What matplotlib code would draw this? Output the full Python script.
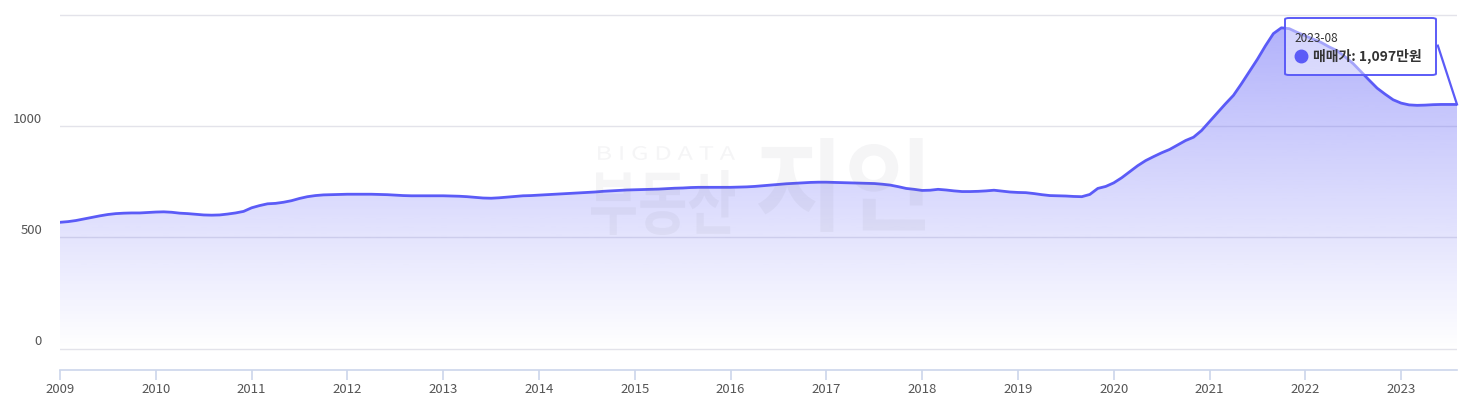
import numpy as np
import matplotlib
matplotlib.use('Agg')
import matplotlib.pyplot as plt
import matplotlib.transforms as mtransforms
from matplotlib.patches import FancyBboxPatch, PathPatch
from matplotlib.lines import Line2D
from matplotlib.path import Path
from matplotlib.textpath import TextPath
from matplotlib.font_manager import FontProperties

plt.rcParams['font.family'] = ['Noto Sans CJK KR', 'DejaVu Sans']

# ---------------- data ----------------
start_year = 2009
year_ticks = list(range(2009, 2024))
prices = [
    568, 571, 576, 583, 590, 597, 603, 607, 609, 610, 610, 612,      # 2009
    614, 615, 613, 609, 607, 604, 601, 600, 601, 605, 610, 617,      # 2010
    633, 643, 651, 653, 658, 665, 675, 683, 688, 691, 692, 693,      # 2011
    694, 694, 694, 694, 693, 692, 690, 688, 687, 687, 687, 687,      # 2012
    687, 686, 685, 683, 680, 677, 676, 678, 681, 684, 687, 688,      # 2013
    690, 692, 694, 696, 698, 700, 702, 704, 707, 709, 711, 713,      # 2014
    714, 715, 716, 717, 719, 721, 722, 724, 725, 725, 725, 725,      # 2015
    725, 726, 727, 729, 732, 735, 738, 741, 743, 745, 747, 748,      # 2016
    748, 747, 746, 745, 744, 743, 742, 739, 735, 728, 720, 716,      # 2017
    711, 712, 716, 713, 709, 706, 706, 707, 709, 712, 708, 704,      # 2018
    702, 701, 697, 692, 688, 687, 686, 684, 683, 693, 720, 729,      # 2019
    745, 768, 795, 822, 845, 863, 880, 895, 915, 935, 950, 980,      # 2020
    1020, 1060, 1100, 1138, 1190, 1245, 1300, 1360, 1415, 1441, 1437, 1420,  # 2021
    1405, 1390, 1375, 1355, 1338, 1310, 1280, 1243, 1206, 1170, 1143, 1118,  # 2022
    1103, 1095, 1093, 1094, 1096, 1097, 1097, 1097,                  # 2023 (Jan-Aug)
]
ytick_values = [0, 500, 1000, 1500]
ytick_labels = ['0', '500', '1000', '']
tooltip_date = '2023-08'
tooltip_label = '매매가'
tooltip_value = 1097
watermark_small = 'BIGDATA'
watermark_left = '부동산'
watermark_right = '지인'

# ---------------- figure ----------------
W, H = 1480, 415
DPI = 100
fig = plt.figure(figsize=(W / DPI, H / DPI), dpi=DPI)
ax = fig.add_axes([60 / W, 45 / H, (1457 - 60) / W, 356 / H])

LINE = '#5b5bf7'
t = start_year + np.arange(len(prices)) / 12.0
p = np.array(prices, dtype=float)

# gradient fill below the curve
n = 256
rgba = np.zeros((n, 1, 4))
rgba[..., 0] = 91 / 255
rgba[..., 1] = 91 / 255
rgba[..., 2] = 247 / 255
rgba[:, 0, 3] = np.linspace(0.0, 0.47, n)
im = ax.imshow(rgba, extent=[t[0], t[-1], 0, p.max()], origin='lower',
               aspect='auto', interpolation='bilinear', zorder=1)
verts = np.vstack([np.column_stack([t, p]),
                   [[t[-1], 0], [t[0], 0], [t[0], p[0]]]])
clip = PathPatch(Path(verts), transform=ax.transData,
                 facecolor='none', edgecolor='none')
ax.add_patch(clip)
im.set_clip_path(clip)
ax.set_xlim(t[0], t[-1])
ax.set_ylim(-95, 1503)

# line
ax.plot(t, p, color=LINE, lw=2.0, solid_joinstyle='round',
        solid_capstyle='round', zorder=3)

# hover artifact line towards the last point
ip = int(np.argmax(p))
ax.plot([t[-1] - 0.2, t[-1]], [p[ip] - 80, p[-1]], color=LINE, lw=1.6,
        zorder=3, clip_on=False)

# grid / axes
ax.set_yticks(ytick_values)
ax.set_yticklabels([])
ax.yaxis.grid(True, color='#e3e3ea', lw=1)
ax.set_axisbelow(True)
for s in ['top', 'right', 'left']:
    ax.spines[s].set_visible(False)
ax.spines['bottom'].set_color('#ccd6eb')
ax.spines['bottom'].set_linewidth(1.2)
ax.set_xticks(year_ticks)
ax.set_xticklabels([str(y) for y in year_ticks])
ax.tick_params(axis='y', length=0)
ax.tick_params(axis='x', length=7, width=1.2, color='#ccd6eb',
               labelcolor='#555555', labelsize=9.5, pad=2)

# y labels (drawn slightly above the grid lines, as in the reference)
ylab_tr = mtransforms.blended_transform_factory(ax.transAxes, ax.transData) + \
    mtransforms.ScaledTranslation(-18 / DPI, 7 / DPI, fig.dpi_scale_trans)
for v, lab in zip(ytick_values, ytick_labels):
    if lab:
        ax.text(0, v, lab, transform=ylab_tr, ha='right', va='center',
                fontsize=9.5, color='#555555')

# watermark (text stretched into boxes given in pixels: x0, x1, top, bottom)
wm_col = (0.45, 0.45, 0.5, 0.07)


def stretched_text(s, box, weight='bold'):
    x0, x1, top, bottom = box
    fp = FontProperties(family='Noto Sans CJK KR', weight=weight)
    tp = TextPath((0, 0), s, size=1, prop=fp)
    bb = tp.get_extents()
    tr = (mtransforms.Affine2D()
          .translate(-bb.x0, -bb.y0)
          .scale((x1 - x0) / bb.width, (bottom - top) / bb.height)
          .translate(x0, H - bottom)
          .scale(1 / W, 1 / H))
    patch = PathPatch(tr.transform_path(tp), transform=fig.transFigure,
                      facecolor=wm_col, edgecolor='none', zorder=5)
    fig.add_artist(patch)


stretched_text(' '.join(watermark_small), (598, 735, 146, 160), weight='normal')
stretched_text(watermark_left, (591, 735, 170, 235))
stretched_text(watermark_right, (758, 925, 138, 232))

# tooltip
box = FancyBboxPatch((1285 / W, 1 - 75 / H), 151 / W, 57 / H,
                     boxstyle='round,pad=0,rounding_size=0.003',
                     transform=fig.transFigure, facecolor=(1, 1, 1, 0.45),
                     edgecolor=LINE, lw=1.4, zorder=10)
fig.add_artist(box)
fig.text(1294 / W, 1 - 38 / H, tooltip_date, ha='left', va='center',
         fontsize=8.5, color='#333333', zorder=11)
fig.add_artist(Line2D([1301 / W], [1 - 56 / H], marker='o', markersize=9,
                      color=LINE, transform=fig.transFigure, zorder=11))
fig.text(1313 / W, 1 - 56 / H, f'{tooltip_label}: {tooltip_value:,}만원',
         ha='left', va='center', fontsize=10, fontweight='bold',
         color='#333333', zorder=11)

fig.savefig('out.png', dpi=DPI)
